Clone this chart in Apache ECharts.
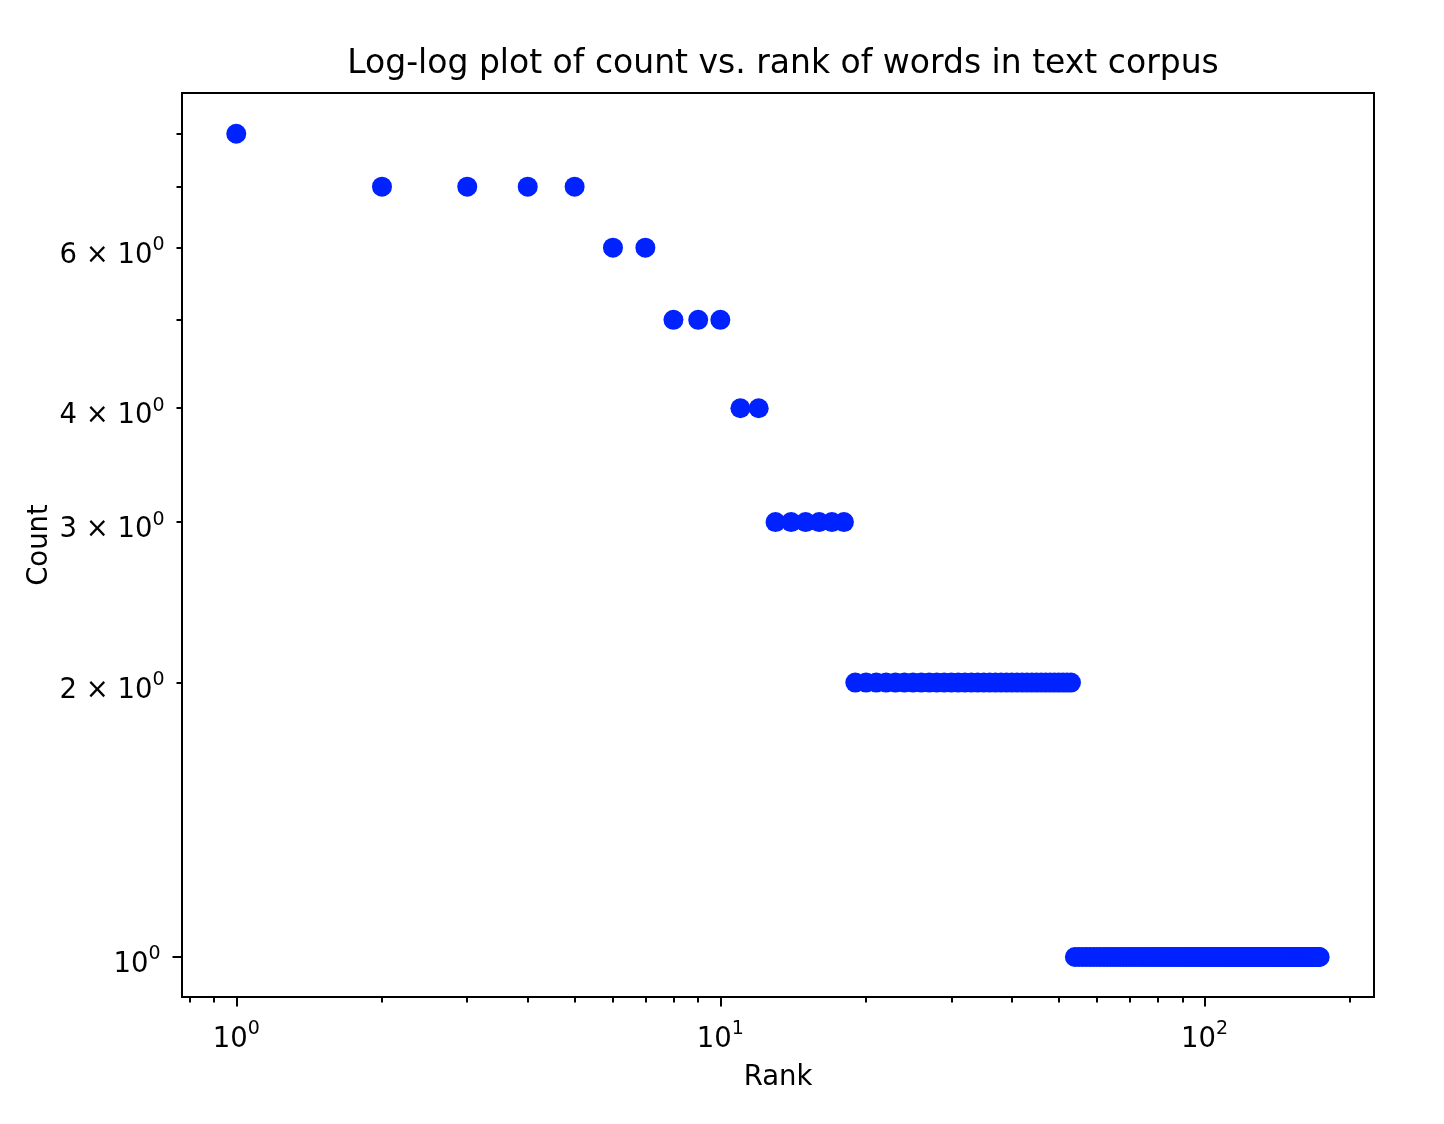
<!DOCTYPE html>
<html><head><meta charset="utf-8">
<script src="https://cdn.jsdelivr.net/npm/echarts@6/dist/echarts.min.js"></script>
<style>html,body{margin:0;padding:0;background:#fff}#c{width:1444px;height:1124px}</style>
</head><body><div id="c"></div>
<script>
// ---- data ----
const countLevels   = [8, 7, 6, 5, 4, 3, 2, 1];          // word counts (distinct values)
const wordsPerLevel = [1, 4, 2, 3, 2, 6, 35, 120];       // how many words have each count
const xMajorTicks = [1, 10, 100];
const xMinorTicks = [0.8, 0.9, 2, 3, 4, 5, 6, 7, 8, 9, 20, 30, 40, 50, 60, 70, 80, 90, 200];
const yMajorTicks = [1];
const yMinorTicks = [0.9, 2, 3, 4, 5, 6, 7, 8];
const yMinorLabels = [2, 3, 4, 6];
const chartTitle = 'Log-log plot of count vs. rank of words in text corpus';
const xName = 'Rank';
const yName = 'Count';

// rank the words by count (descending)
const points = [];
let rank = 1;
countLevels.forEach((c, i) => {
  for (let k = 0; k < wordsPerLevel[i]; k++) { points.push([rank, c]); rank++; }
});

const F = 'DejaVu Sans';
const rich = {
  b: {fontFamily: F, fontSize: 27.5, color: '#000', lineHeight: 34, verticalAlign: 'bottom'},
  s: {fontFamily: F, fontSize: 19, color: '#000', lineHeight: 19, verticalAlign: 'top'}
};
const exp = v => Math.round(Math.log10(v));
const black = {color: '#000', width: 2};

const X = {min: 0.7725, max: 224};
const Y = {min: 0.904, max: 8.868};

const option = {
  animation: false,
  backgroundColor: '#fff',
  title: {
    text: chartTitle, left: 778, top: 43, textAlign: 'center',
    textStyle: {fontFamily: F, fontSize: 33, fontWeight: 'normal', color: '#000'}
  },
  grid: {left: 182, top: 93, width: 1192, height: 904, show: true, borderColor: '#000', borderWidth: 2, containLabel: false},
  xAxis: [
    {type: 'log', gridIndex: 0, position: 'bottom', min: X.min, max: X.max,
     axisLine: {show: true, lineStyle: black},
     axisTick: {show: true, customValues: xMajorTicks, length: 9.5, lineStyle: black},
     axisLabel: {show: true, customValues: xMajorTicks, margin: 22.5,
       formatter: v => '{b|10}{s|' + exp(v) + '}', rich: rich},
     splitLine: {show: false}, minorTick: {show: false},
     name: xName, nameLocation: 'middle', nameGap: 67,
     nameTextStyle: {fontFamily: F, fontSize: 27.5, color: '#000'}},
    {type: 'log', gridIndex: 0, position: 'bottom', min: X.min, max: X.max,
     axisLine: {show: false},
     axisTick: {show: true, customValues: xMinorTicks, length: 5.5, lineStyle: black},
     axisLabel: {show: false}, splitLine: {show: false}, minorTick: {show: false}}
  ],
  yAxis: [
    {type: 'log', gridIndex: 0, position: 'left', min: Y.min, max: Y.max,
     axisLine: {show: true, lineStyle: black},
     axisTick: {show: true, customValues: yMajorTicks, length: 9.5, lineStyle: black},
     axisLabel: {show: true, customValues: yMajorTicks, margin: 21.5, padding: [10, 0, 0, 0],
       formatter: v => '{b|10}{s|' + exp(v) + '}', rich: rich},
     splitLine: {show: false}, minorTick: {show: false},
     name: yName, nameLocation: 'middle', nameGap: 128, nameRotate: 90,
     nameTextStyle: {fontFamily: F, fontSize: 27.5, color: '#000'}},
    {type: 'log', gridIndex: 0, position: 'left', min: Y.min, max: Y.max,
     axisLine: {show: false},
     axisTick: {show: true, customValues: yMinorTicks, length: 5.5, lineStyle: black},
     axisLabel: {show: true, customValues: yMinorLabels, margin: 17.5, padding: [10, 0, 0, 0],
       formatter: v => '{b|' + Math.round(v) + ' \u00d7 10}{s|0}', rich: rich},
     splitLine: {show: false}, minorTick: {show: false}}
  ],
  series: [{
    type: 'scatter', xAxisIndex: 0, yAxisIndex: 0, data: points,
    symbol: 'circle', symbolSize: 20, silent: true,
    itemStyle: {color: '#0022ff', opacity: 1}
  }]
};
const chart = echarts.init(document.getElementById('c'), null, {renderer: 'canvas'});
chart.setOption(option);
</script>
</body></html>
